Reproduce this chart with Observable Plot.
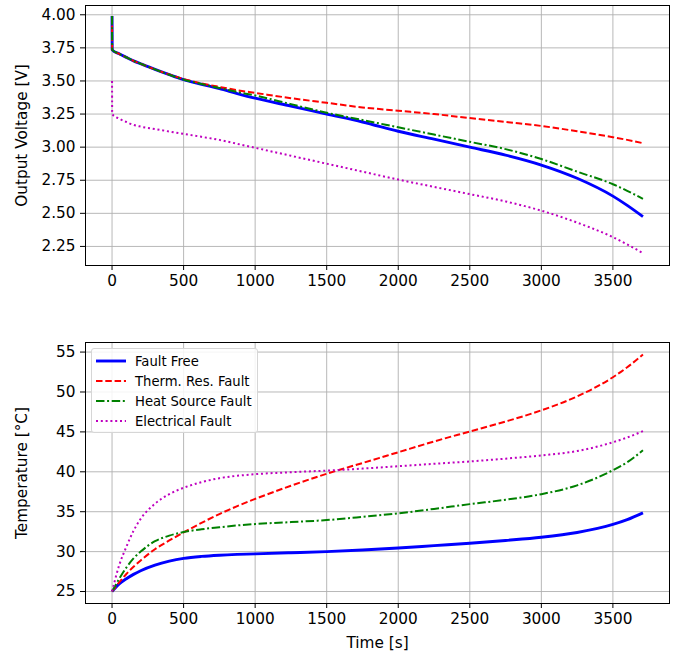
<!DOCTYPE html>
<html>
<head>
<meta charset="utf-8">
<script src="https://cdn.jsdelivr.net/npm/d3@7"></script>
<script src="https://cdn.jsdelivr.net/npm/@observablehq/plot@0.6"></script>
<style>
  html, body { margin: 0; padding: 0; background: #fff; }
  #wrap { position: relative; width: 683px; height: 655px; font-family: "DejaVu Sans", sans-serif; }
  #wrap svg { display: block; }
  #legend {
    position: absolute; left: 91px; top: 348px; width: 167px; height: 85px;
    box-sizing: border-box; border: 1px solid #d6d6d6; border-radius: 3px;
    background: rgba(255,255,255,0.85); font-size: 13.2px; color: #000;
  }
  .row { position: absolute; left: 0; height: 20px; display: flex; align-items: center; }
  .row svg { margin-left: 4px; margin-right: 9px; }
</style>
</head>
<body>
<div id="wrap"></div>
<script>
// ---- data ----
const times = [0, 1, 50, 100, 150, 200, 300, 400, 500, 625, 750, 875, 1000, 1250, 1500, 1750, 2000, 2250, 2500, 2750, 3000, 3250, 3500, 3600, 3710];

const vFaultFree   = [3.99, 3.735, 3.705, 3.678, 3.652, 3.63, 3.587, 3.547, 3.51, 3.475, 3.442, 3.405, 3.37, 3.31, 3.25, 3.19, 3.12, 3.06, 3.00, 2.94, 2.865, 2.765, 2.63, 2.56, 2.475];
const vThermRes    = [3.99, 3.735, 3.705, 3.678, 3.652, 3.63, 3.587, 3.549, 3.515, 3.482, 3.455, 3.43, 3.41, 3.37, 3.335, 3.30, 3.275, 3.25, 3.22, 3.19, 3.16, 3.12, 3.075, 3.055, 3.03];
const vHeatSource  = [3.99, 3.735, 3.705, 3.678, 3.652, 3.63, 3.587, 3.547, 3.51, 3.477, 3.447, 3.417, 3.39, 3.325, 3.26, 3.205, 3.15, 3.095, 3.04, 2.985, 2.91, 2.815, 2.72, 2.67, 2.61];
const vElectrical  = [3.50, 3.25, 3.215, 3.19, 3.168, 3.155, 3.137, 3.118, 3.10, 3.078, 3.055, 3.025, 2.995, 2.935, 2.875, 2.815, 2.755, 2.70, 2.645, 2.59, 2.52, 2.43, 2.32, 2.265, 2.20];

const tFaultFree   = [25, 25.02, 25.95, 26.6, 27.15, 27.6, 28.3, 28.8, 29.15, 29.4, 29.55, 29.65, 29.72, 29.86, 30.0, 30.2, 30.45, 30.75, 31.05, 31.4, 31.8, 32.4, 33.4, 34.0, 34.85];
const tThermRes    = [25, 25.02, 26.15, 27.2, 28.1, 28.9, 30.3, 31.4, 32.4, 33.6, 34.7, 35.7, 36.6, 38.25, 39.75, 41.1, 42.45, 43.8, 45.05, 46.3, 47.7, 49.45, 51.85, 53.1, 54.7];
const tHeatSource  = [25, 25.03, 26.6, 28.0, 29.15, 30.0, 31.3, 32.0, 32.45, 32.8, 33.05, 33.28, 33.45, 33.7, 33.95, 34.35, 34.8, 35.35, 35.95, 36.5, 37.2, 38.3, 40.2, 41.2, 42.7];
const tElectrical  = [25, 25.07, 28.3, 30.6, 32.6, 34.1, 36.0, 37.2, 38.0, 38.7, 39.2, 39.5, 39.7, 39.95, 40.15, 40.4, 40.7, 41.0, 41.3, 41.65, 42.05, 42.6, 43.7, 44.3, 45.1];

const seriesNames = ["Fault Free", "Therm. Res. Fault", "Heat Source Fault", "Electrical Fault"];
const xTicks = [0, 500, 1000, 1500, 2000, 2500, 3000, 3500];
const vTicks = [2.25, 2.50, 2.75, 3.00, 3.25, 3.50, 3.75, 4.00];
const tTicks = [25, 30, 35, 40, 45, 50, 55];

// ---- styles ----
const styles = [
  {stroke: "#0000ff", strokeWidth: 2.9, strokeDasharray: null},
  {stroke: "#ff0000", strokeWidth: 2, strokeDasharray: "6.5,2.8"},
  {stroke: "#008000", strokeWidth: 2, strokeDasharray: "8.5,2.6,2,2.6"},
  {stroke: "#bf00bf", strokeWidth: 2, strokeDasharray: "2,2.8"}
];

const vSeries = [vFaultFree, vThermRes, vHeatSource, vElectrical];
const tSeries = [tFaultFree, tThermRes, tHeatSource, tElectrical];
const toRows = (arr) => times.map((t, i) => ({t, y: arr[i]}));

const FS = 15.3;
const font = {fontFamily: "DejaVu Sans, sans-serif", fontSize: FS + "px", color: "#000", background: "#fff", overflow: "visible"};

function lineMarks(seriesArr) {
  return seriesArr.map((arr, k) => Plot.line(toRows(arr), {
    x: "t", y: "y", curve: "monotone-x",
    stroke: styles[k].stroke, strokeWidth: styles[k].strokeWidth,
    strokeDasharray: styles[k].strokeDasharray, strokeLinecap: "butt"
  }));
}

const xDomain = [-185.5, 3895.5];

const voltagePlot = Plot.plot({
  width: 683, height: 330,
  marginLeft: 85, marginRight: 14, marginTop: 5, marginBottom: 65,
  style: font,
  x: {domain: xDomain},
  y: {domain: [2.106, 4.07]},
  marks: [
    Plot.gridX(xTicks, {stroke: "#b0b0b0", strokeOpacity: 1, strokeWidth: 0.9}),
    Plot.gridY(vTicks, {stroke: "#b0b0b0", strokeOpacity: 1, strokeWidth: 0.9}),
    ...lineMarks(vSeries),
    Plot.axisX({ticks: xTicks, tickSize: 5, tickPadding: 5, fontSize: FS, tickFormat: d => String(d), label: null}),
    Plot.axisY({ticks: vTicks, tickSize: 5, tickPadding: 5, fontSize: FS, tickFormat: d3.format(".2f"),
      label: "Output Voltage [V]", labelAnchor: "center", labelArrow: "none", labelOffset: 69}),
    Plot.frame({stroke: "#000", strokeWidth: 1})
  ]
});

const tempPlot = Plot.plot({
  width: 683, height: 325,
  marginLeft: 85, marginRight: 14, marginTop: 12, marginBottom: 52,
  style: font,
  x: {domain: xDomain},
  y: {domain: [23.5, 56.2]},
  marks: [
    Plot.gridX(xTicks, {stroke: "#b0b0b0", strokeOpacity: 1, strokeWidth: 0.9}),
    Plot.gridY(tTicks, {stroke: "#b0b0b0", strokeOpacity: 1, strokeWidth: 0.9}),
    ...lineMarks(tSeries),
    Plot.axisX({ticks: xTicks, tickSize: 5, tickPadding: 5, fontSize: FS, tickFormat: d => String(d),
      label: "Time [s]", labelAnchor: "center", labelArrow: "none", labelOffset: 44}),
    Plot.axisY({ticks: tTicks, tickSize: 5, tickPadding: 5, fontSize: FS, tickFormat: d => String(d),
      label: "Temperature [°C]", labelAnchor: "center", labelArrow: "none", labelOffset: 69}),
    Plot.frame({stroke: "#000", strokeWidth: 1})
  ]
});

const wrap = document.getElementById("wrap");
wrap.appendChild(voltagePlot);
wrap.appendChild(tempPlot);

// legend (inside the lower axes, upper left)
const legend = document.createElement("div");
legend.id = "legend";
const rowTops = [2, 22, 42, 62];
seriesNames.forEach((name, k) => {
  const row = document.createElement("div");
  row.className = "row";
  row.style.top = rowTops[k] + "px";
  const s = styles[k];
  row.innerHTML = `<svg width="30" height="10"><line x1="0" x2="30" y1="5" y2="5" stroke="${s.stroke}" stroke-width="${s.strokeWidth}" ${s.strokeDasharray ? `stroke-dasharray="${s.strokeDasharray}"` : ""}/></svg><span>${name}</span>`;
  legend.appendChild(row);
});
wrap.appendChild(legend);
</script>
</body>
</html>
